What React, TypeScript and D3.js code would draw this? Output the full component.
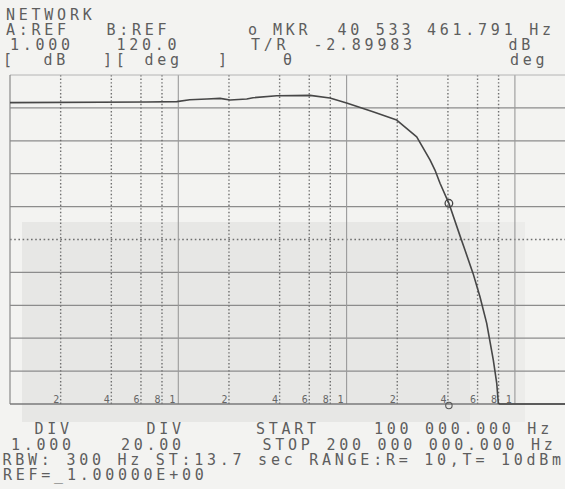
import React from 'react';
import * as d3 from 'd3';

const W = 565;
const H = 489;

// Trace A (gain, dB) vs frequency (Hz)
const freqHz = [1e5, 6.5e5, 9.8e5, 1.17e6, 1.48e6, 1.77e6, 2.03e6, 2.55e6, 2.78e6, 3.85e6, 6.07e6, 7.96e6, 1.0e7, 1.435e7, 1.985e7, 2.61e7, 3.13e7, 3.35e7, 3.59e7, 4.0533e7, 4.72e7, 5.05e7, 5.64e7, 6.2e7, 6.8e7, 7.44e7, 7.8e7, 7.97e7, 8.15e7, 2e8];
const gainDb = [0.16, 0.18, 0.19, 0.25, 0.27, 0.29, 0.24, 0.27, 0.31, 0.37, 0.38, 0.30, 0.15, -0.12, -0.37, -0.88, -1.58, -1.89, -2.29, -2.90, -3.89, -4.32, -5.03, -5.74, -6.55, -7.66, -8.37, -8.98, -15, -30];

const markerFreq = 40533461.791;
const markerDb = -2.89983;

const freqStart = 1e5;
const freqStop = 2e8;
const refDb = 1.0;
const divDb = 1.0;
const nDiv = 10;
const decadeStarts = [1e5, 1e6, 1e7, 1e8];
const tickMultiples = [2, 4, 6, 8];

const headerRows = [
  { y: 20, segs: [{ x: 6, t: 'NETWORK' }] },
  { y: 34.5, segs: [{ x: 6, t: 'A:REF' }, { x: 106.5, t: 'B:REF' }, { x: 248, t: 'o' }, { x: 273, t: 'MKR' }, { x: 337.5, t: '40 533 461.791 Hz' }] },
  { y: 50, segs: [{ x: 10, t: '1.000' }, { x: 116.5, t: '120.0' }, { x: 251, t: 'T/R' }, { x: 313.5, t: '-2.89983' }, { x: 508.5, t: 'dB' }] },
  { y: 64.5, segs: [{ x: 3, t: '[' }, { x: 43.5, t: 'dB' }, { x: 103, t: '][' }, { x: 144.5, t: 'deg' }, { x: 218, t: ']' }, { x: 283, t: 'θ' }, { x: 510, t: 'deg' }] },
  { y: 434, segs: [{ x: 34.5, t: 'DIV' }, { x: 146.5, t: 'DIV' }, { x: 256, t: 'START' }, { x: 374, t: '100 000.000 Hz' }] },
  { y: 450, segs: [{ x: 11, t: '1.000' }, { x: 121, t: '20.00' }, { x: 262.5, t: 'STOP' }, { x: 326.5, t: '200 000 000.000 Hz' }] },
  { y: 465, segs: [{ x: 2.5, t: 'RBW: 300 Hz ST:13.7 sec RANGE:R= 10,T= 10dBm' }] },
  { y: 479.5, segs: [{ x: 3, t: 'REF=_1.00000E+00' }] },
];

const textStyle: React.CSSProperties = {
  fontFamily: "'DejaVu Sans Mono', monospace",
  fontSize: 15,
  letterSpacing: '3.75px',
  whiteSpace: 'pre',
};

export default function App() {
  const left = 10;
  const top = 75;
  const bottom = 404;
  const decadePx = 168.3;
  const right = left + Math.log10(freqStop / freqStart) * decadePx;

  const x = d3.scaleLog().domain([freqStart, freqStop]).range([left, right]);
  const y = d3.scaleLinear().domain([refDb, refDb - nDiv * divDb]).range([top, bottom]).clamp(true);

  const pts = freqHz.map((f, i) => [f, gainDb[i]] as [number, number]);
  const line = d3.line<[number, number]>().x(d => x(d[0])).y(d => y(d[1]));

  const hLines = d3.range(1, nDiv).map(i => refDb - i * divDb);
  const centerDb = refDb - (nDiv / 2) * divDb;

  const minor: { f: number; m: number }[] = [];
  decadeStarts.forEach(d => tickMultiples.forEach(m => { if (d * m < freqStop) minor.push({ f: d * m, m }); }));
  const decades = decadeStarts.slice(1);

  return (
    <div style={{ position: 'fixed', left: 0, top: 0 }}>
      <svg width={W} height={H} viewBox={`0 0 ${W} ${H}`} style={{ display: 'block' }}>
        <rect x={0} y={0} width={W} height={H} fill="#f3f3f1" />
        <rect x={22} y={222} width={448} height={200} fill="#e7e7e5" />
        <rect x={470} y={222} width={55} height={200} fill="#ececea" />

        {/* horizontal grid */}
        {hLines.map(v => (
          <line key={'h' + v} x1={left} x2={right} y1={y(v)} y2={y(v)}
            stroke={v === centerDb ? '#6e6e6e' : '#8c8c8c'}
            strokeWidth={v === centerDb ? 1.6 : 1.2}
            strokeDasharray={v === centerDb ? '1.6 2.6' : undefined} />
        ))}
        {/* vertical minor dotted */}
        {minor.map(({ f }) => (
          <line key={'v' + f} x1={x(f)} x2={x(f)} y1={top} y2={bottom}
            stroke="#6e6e6e" strokeWidth={1.4} strokeDasharray="1.4 2.2" />
        ))}
        {/* decade lines */}
        {decades.map(f => (
          <line key={'d' + f} x1={x(f)} x2={x(f)} y1={top} y2={bottom} stroke="#9a9a9a" strokeWidth={1.1} />
        ))}
        {/* frame */}
        <line x1={left} x2={right} y1={top} y2={top} stroke="#b4b4b4" strokeWidth={1} />
        <line x1={left} x2={left} y1={top} y2={bottom} stroke="#8a8a8a" strokeWidth={1.2} />
        <line x1={left} x2={right} y1={bottom} y2={bottom} stroke="#7a7a7a" strokeWidth={1.4} />

        {/* frequency digit labels */}
        {minor.map(({ f, m }) => (
          <text key={'l' + f} x={x(f) - 1.5} y={bottom - 1.5} textAnchor="end"
            style={{ fontFamily: "'DejaVu Sans Mono', monospace", fontSize: 10 }} fill="#666">{m}</text>
        ))}
        {decades.map(f => (
          <text key={'l1' + f} x={x(f) - 3} y={bottom - 1.5} textAnchor="end"
            style={{ fontFamily: "'DejaVu Sans Mono', monospace", fontSize: 10 }} fill="#666">1</text>
        ))}

        {/* trace */}
        <path d={line(pts) || ''} fill="none" stroke="#474747" strokeWidth={1.6} strokeLinejoin="round" />

        {/* markers */}
        <circle cx={x(markerFreq)} cy={y(markerDb)} r={3.8} fill="none" stroke="#444" strokeWidth={1.3} />
        <circle cx={x(markerFreq)} cy={bottom + 1.5} r={3.2} fill="none" stroke="#555" strokeWidth={1.1} />

        {/* text */}
        {headerRows.map((row, ri) => row.segs.map((s, si) => (
          <text key={ri + '-' + si} x={s.x} y={row.y} style={textStyle} fill="#5e5e5e" xmlSpace="preserve">{s.t}</text>
        )))}
      </svg>
    </div>
  );
}
